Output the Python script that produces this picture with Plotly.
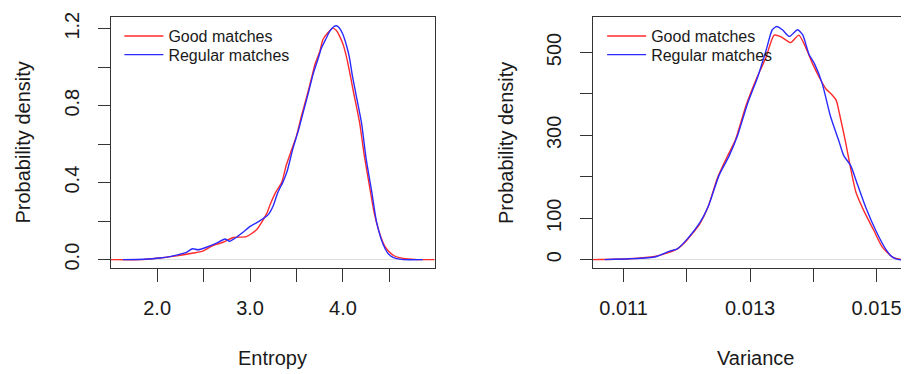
import plotly.graph_objects as go

# ---- data ----
ent_good_x = [1.50, 1.85, 2.03, 2.21, 2.39, 2.49, 2.60, 2.71, 2.82, 2.96, 3.07, 3.12, 3.18, 3.22, 3.28,
              3.34, 3.39, 3.44, 3.50, 3.55, 3.61, 3.66, 3.70, 3.75, 3.785, 3.84, 3.89, 3.93, 3.96,
              4.00, 4.04, 4.07, 4.11, 4.18, 4.23, 4.29, 4.34, 4.41, 4.45, 4.50, 4.55, 4.61, 4.70, 4.80, 4.99]
ent_good_y = [0.0, 0.0, 0.008, 0.019, 0.034, 0.044, 0.073, 0.090, 0.115, 0.119, 0.155, 0.19, 0.24, 0.29, 0.353,
              0.40, 0.49, 0.56, 0.643, 0.74, 0.846, 0.94, 1.016, 1.08, 1.144, 1.18, 1.203, 1.19, 1.165,
              1.12, 1.05, 0.98, 0.88, 0.71, 0.54, 0.37, 0.235, 0.115, 0.07, 0.039, 0.02, 0.010, 0.003, 0.0, 0.0]

ent_reg_x = [1.63, 1.85, 2.03, 2.15, 2.24, 2.32, 2.38, 2.44, 2.53, 2.64, 2.73, 2.78, 2.85, 2.92, 3.01,
             3.10, 3.18, 3.21, 3.25, 3.30, 3.355, 3.40, 3.46, 3.52, 3.57, 3.63, 3.68, 3.73, 3.77, 3.82,
             3.857, 3.90, 3.93, 3.96, 4.00, 4.04, 4.07, 4.10, 4.14, 4.20, 4.25, 4.31, 4.36, 4.43, 4.48,
             4.52, 4.58, 4.65, 4.86]
ent_reg_y = [0.0, 0.002, 0.008, 0.017, 0.027, 0.039, 0.056, 0.051, 0.064, 0.085, 0.107, 0.095, 0.115, 0.141, 0.175,
             0.200, 0.226, 0.243, 0.28, 0.35, 0.404, 0.46, 0.574, 0.67, 0.761, 0.87, 0.965, 1.04, 1.101, 1.15,
             1.186, 1.21, 1.215, 1.205, 1.17, 1.11, 1.05, 0.96, 0.86, 0.71, 0.523, 0.353, 0.200, 0.082, 0.035,
             0.017, 0.005, 0.0, 0.0]

var_good_x = [0.01051, 0.01109, 0.01151, 0.01167, 0.01185, 0.01199, 0.01210, 0.01220, 0.01233, 0.01248,
              0.01262, 0.01277, 0.01293, 0.01309, 0.01325, 0.01338, 0.01349, 0.01364, 0.01377, 0.01388,
              0.01399, 0.01409, 0.01420, 0.01430, 0.01436, 0.01441, 0.01451, 0.01459, 0.01467, 0.01480,
              0.01496, 0.01509, 0.01525, 0.01541, 0.01565]
var_good_y = [0, 2, 8, 15, 26, 45, 65, 85, 125, 196,
              243, 290, 370, 433, 488, 542, 538, 524, 542, 512,
              472, 441, 412, 397, 385, 354, 283, 219, 164, 117,
              69, 30, 6, 0, 0]

var_reg_x = [0.01070, 0.01110, 0.01151, 0.01172, 0.01185, 0.01199, 0.01222, 0.01235, 0.01251, 0.01267,
             0.01280, 0.01296, 0.01312, 0.01325, 0.01335, 0.01342, 0.01351, 0.01362, 0.01375, 0.01383,
             0.01393, 0.01402, 0.01414, 0.01427, 0.01441, 0.01448, 0.01459, 0.01470, 0.01483, 0.01499,
             0.01514, 0.01525, 0.01535, 0.01545]
var_reg_y = [0, 2, 7, 20, 26, 47, 93, 133, 204, 251,
             299, 377, 441, 504, 555, 563, 555, 539, 555, 543,
             496, 472, 425, 346, 283, 251, 227, 180, 125, 69,
             26, 6, 0, 0]

series_names = ["Good matches", "Regular matches"]
ent_xticks = [2.0, 2.5, 3.0, 3.5, 4.0, 4.5]
ent_xlabels = ["2.0", "", "3.0", "", "4.0", ""]
ent_yticks = [0.0, 0.2, 0.4, 0.6, 0.8, 1.0, 1.2]
ent_ylabels = ["0.0", "", "0.4", "", "0.8", "", "1.2"]
var_xticks = [0.011, 0.012, 0.013, 0.014, 0.015]
var_xlabels = ["0.011", "", "0.013", "", "0.015"]
var_yticks = [0, 100, 200, 300, 400, 500]
var_ylabels = ["0", "100", "", "300", "", "500"]

# ---- figure ----
W, H = 909, 374
FONT = "Liberation Sans, Arial, Helvetica, sans-serif"
TXT = "#1a1a1a"
RED, BLUE = "#ff2a2a", "#2a2aff"
LW = 1.4

fig = go.Figure()
fig.add_trace(go.Scatter(x=ent_good_x, y=ent_good_y, mode="lines", name=series_names[0],
                         line=dict(color=RED, width=LW, shape="spline", smoothing=0.6),
                         xaxis="x", yaxis="y", legend="legend"))
fig.add_trace(go.Scatter(x=ent_reg_x, y=ent_reg_y, mode="lines", name=series_names[1],
                         line=dict(color=BLUE, width=LW, shape="spline", smoothing=0.6),
                         xaxis="x", yaxis="y", legend="legend2"))
fig.add_trace(go.Scatter(x=var_good_x, y=var_good_y, mode="lines", name=series_names[0],
                         line=dict(color=RED, width=LW, shape="spline", smoothing=0.6),
                         xaxis="x2", yaxis="y2", legend="legend3"))
fig.add_trace(go.Scatter(x=var_reg_x, y=var_reg_y, mode="lines", name=series_names[1],
                         line=dict(color=BLUE, width=LW, shape="spline", smoothing=0.6),
                         xaxis="x2", yaxis="y2", legend="legend4"))

ydom = [1 - 260 / H, 1 - 3.7 / H]
axis_common = dict(showgrid=False, showline=True, linecolor="#333333", linewidth=1,
                   ticks="outside", tickcolor="#333333", tickwidth=1, ticklabeloverflow="allow",
                   tickfont=dict(family=FONT, size=20, color=TXT))


def leg(x, y):
    return dict(x=x / W, y=1 - y / H, xanchor="left", yanchor="top", bgcolor="rgba(0,0,0,0)",
                font=dict(family=FONT, size=16, color=TXT), itemwidth=39)


fig.update_layout(
    width=W, height=H, margin=dict(l=0, r=0, t=0, b=0),
    paper_bgcolor="white", plot_bgcolor="white", showlegend=True,
    font=dict(family=FONT, color=TXT),
    xaxis=dict(domain=[102.7 / W, 427 / W], range=[1.4989, 4.986], anchor="y",
               tickvals=ent_xticks, ticktext=ent_xlabels, ticklen=13, mirror=True,
               zeroline=False, ticklabelstandoff=9, **axis_common),
    yaxis=dict(domain=ydom, range=[-0.0444, 1.2626], anchor="x",
               tickvals=ent_yticks, ticktext=ent_ylabels, ticklen=12, tickangle=-90, mirror=True,
               zeroline=True, zerolinecolor="#dddddd", zerolinewidth=1, ticklabelstandoff=11,
               **axis_common),
    xaxis2=dict(domain=[585.3 / W, 1.0], range=[0.010511, 0.015622], anchor="y2",
                tickvals=var_xticks, ticktext=var_xlabels, ticklen=13, mirror=True,
                zeroline=False, ticklabelstandoff=9, **axis_common),
    yaxis2=dict(domain=ydom, range=[-20.6, 586.7], anchor="x2",
                tickvals=var_yticks, ticktext=var_ylabels, ticklen=12, tickangle=-90, mirror=True,
                zeroline=True, zerolinecolor="#dddddd", zerolinewidth=1, ticklabelstandoff=11,
                **axis_common),
    legend=leg(111.5, 6.2),
    legend2=leg(111.5, 25.2),
    legend3=leg(594.8, 6.2),
    legend4=leg(594.8, 25.2),
    annotations=[
        dict(text="Entropy", xref="paper", yref="paper", x=264.8 / W, y=1 - 351.3 / H,
             showarrow=False, font=dict(family=FONT, size=20, color=TXT),
             xanchor="center", yanchor="middle"),
        dict(text="Variance", xref="paper", yref="paper", x=748.5 / W, y=1 - 351.3 / H,
             showarrow=False, font=dict(family=FONT, size=20, color=TXT),
             xanchor="center", yanchor="middle"),
        dict(text="Probability density", xref="paper", yref="paper", x=15 / W, y=1 - 132 / H,
             showarrow=False, textangle=-90, font=dict(family=FONT, size=20, color=TXT),
             xanchor="center", yanchor="middle"),
        dict(text="Probability density", xref="paper", yref="paper", x=498 / W, y=1 - 132 / H,
             showarrow=False, textangle=-90, font=dict(family=FONT, size=20, color=TXT),
             xanchor="center", yanchor="middle"),
    ],
)

fig.write_html("out.html")
